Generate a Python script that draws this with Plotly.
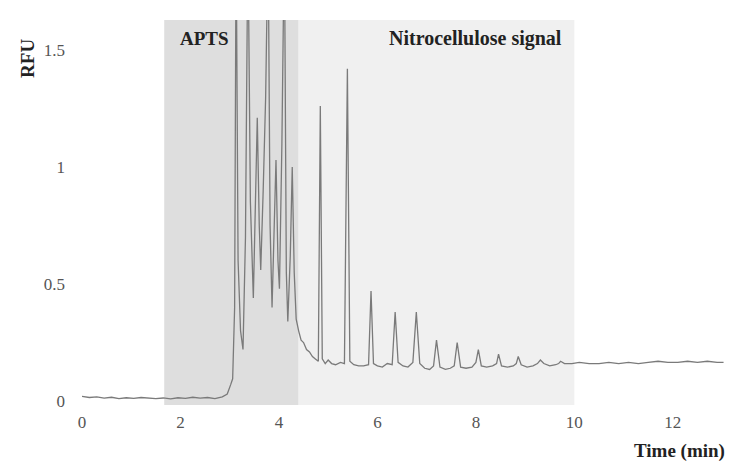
import plotly.graph_objects as go

# Electropherogram trace (time in min, signal in RFU)
time_min = [
    0.00, 0.15, 0.30, 0.45, 0.60, 0.75, 0.90, 1.05, 1.20, 1.35, 1.50, 1.65, 1.80, 1.95,
    2.10, 2.25, 2.40, 2.55, 2.70, 2.85, 2.95, 3.02, 3.06,
    3.10, 3.13, 3.17, 3.22, 3.27, 3.32, 3.37, 3.42, 3.48, 3.52, 3.56, 3.60, 3.63,
    3.68, 3.73, 3.78, 3.82, 3.86, 3.90, 3.94, 3.98, 4.01, 4.06, 4.11, 4.15, 4.18,
    4.23, 4.27, 4.31, 4.35, 4.40, 4.45, 4.50, 4.56, 4.62, 4.68, 4.74, 4.80, 4.84,
    4.88, 4.94, 5.00, 5.07, 5.15, 5.25, 5.33, 5.39, 5.44, 5.52, 5.62, 5.72, 5.82,
    5.87, 5.92, 6.00, 6.10, 6.20, 6.30, 6.36, 6.42, 6.52, 6.62, 6.72, 6.79, 6.86,
    6.96, 7.06, 7.14, 7.20, 7.27, 7.38, 7.48, 7.56, 7.62, 7.69, 7.80, 7.92, 8.00,
    8.05, 8.11, 8.22, 8.34, 8.42, 8.46, 8.52, 8.64, 8.76, 8.82, 8.86, 8.92, 9.04,
    9.16, 9.25, 9.31, 9.38, 9.50, 9.62, 9.68, 9.72, 9.80, 9.95, 10.10, 10.30,
    10.50, 10.70, 10.90, 11.10, 11.30, 11.50, 11.70, 11.90, 12.10, 12.30, 12.50,
    12.70, 12.90, 13.03,
]
rfu = [
    0.020, 0.015, 0.018, 0.012, 0.016, 0.010, 0.014, 0.011, 0.015, 0.012, 0.010, 0.013, 0.009, 0.014,
    0.011, 0.016, 0.012, 0.015, 0.010, 0.018, 0.030, 0.070, 0.095,
    0.40, 2.00, 0.60, 0.30, 0.22, 0.70, 2.00, 0.85, 0.44, 0.80, 1.21, 0.75, 0.56,
    0.90, 1.30, 2.00, 0.75, 0.40, 0.70, 1.03, 0.60, 0.48, 1.10, 2.00, 0.55, 0.34,
    0.62, 1.00, 0.55, 0.35, 0.30, 0.26, 0.25, 0.22, 0.21, 0.19, 0.18, 0.17, 1.26,
    0.18, 0.16, 0.175, 0.16, 0.155, 0.165, 0.16, 1.42, 0.17, 0.155, 0.150, 0.150, 0.155,
    0.47, 0.160, 0.150, 0.145, 0.160, 0.155, 0.38, 0.165, 0.150, 0.145, 0.165, 0.38, 0.160,
    0.140, 0.135, 0.150, 0.26, 0.145, 0.135, 0.140, 0.150, 0.25, 0.145, 0.140, 0.145, 0.165,
    0.22, 0.150, 0.145, 0.150, 0.160, 0.20, 0.150, 0.145, 0.150, 0.160, 0.19, 0.155, 0.145,
    0.150, 0.160, 0.175, 0.160, 0.150, 0.155, 0.160, 0.170, 0.160, 0.160, 0.165, 0.160,
    0.160, 0.165, 0.160, 0.165, 0.160, 0.165, 0.170, 0.165, 0.165, 0.170, 0.165,
    0.170, 0.165, 0.165,
]

# Shaded zones (min)
apts_zone = [1.67, 4.40]
nitro_zone = [4.40, 10.0]

serif = "Liberation Serif"

fig = go.Figure()

fig.add_vrect(x0=apts_zone[0], x1=apts_zone[1], fillcolor="#dedede", line_width=0, layer="below")
fig.add_vrect(x0=nitro_zone[0], x1=nitro_zone[1], fillcolor="#f0f0f0", line_width=0, layer="below")

fig.add_trace(go.Scatter(
    x=time_min, y=rfu, mode="lines",
    line=dict(color="#7a7a7a", width=1.3),
    showlegend=False,
))

fig.add_annotation(x=2.48, y=1.55, text="<b>APTS</b>",
                   showarrow=False, font=dict(family=serif, size=19, color="#222"))
fig.add_annotation(x=7.99, y=1.55, text="<b>Nitrocellulose signal</b>",
                   showarrow=False, font=dict(family=serif, size=20, color="#222"))
fig.add_annotation(xref="paper", yref="paper", x=-0.103, y=0.955, text="<b>RFU</b>",
                   textangle=-90, showarrow=False, font=dict(family=serif, size=19, color="#222"))
fig.add_annotation(xref="paper", yref="paper", x=1.0, y=-0.153, xanchor="right",
                   text="<b>Time (min)</b>", showarrow=False,
                   font=dict(family=serif, size=19, color="#222"))

fig.update_xaxes(range=[0, 13.1], tickvals=[0, 2, 4, 6, 8, 10, 12], showgrid=False,
                 zeroline=False, showline=False, ticks="", ticklabelstandoff=5,
                 tickfont=dict(family=serif, size=17, color="#555"))
fig.update_yaxes(range=[-0.017, 1.628], tickvals=[0, 0.5, 1, 1.5], ticktext=["0", "0.5", "1", "1.5"],
                 showgrid=False, zeroline=False, showline=False, ticks="", ticklabelstandoff=16,
                 tickfont=dict(family=serif, size=17, color="#555"))

fig.update_layout(
    width=731, height=464,
    margin=dict(l=74, r=12, t=12, b=67),
    plot_bgcolor="white", paper_bgcolor="white",
)

fig.write_html("out.html")
